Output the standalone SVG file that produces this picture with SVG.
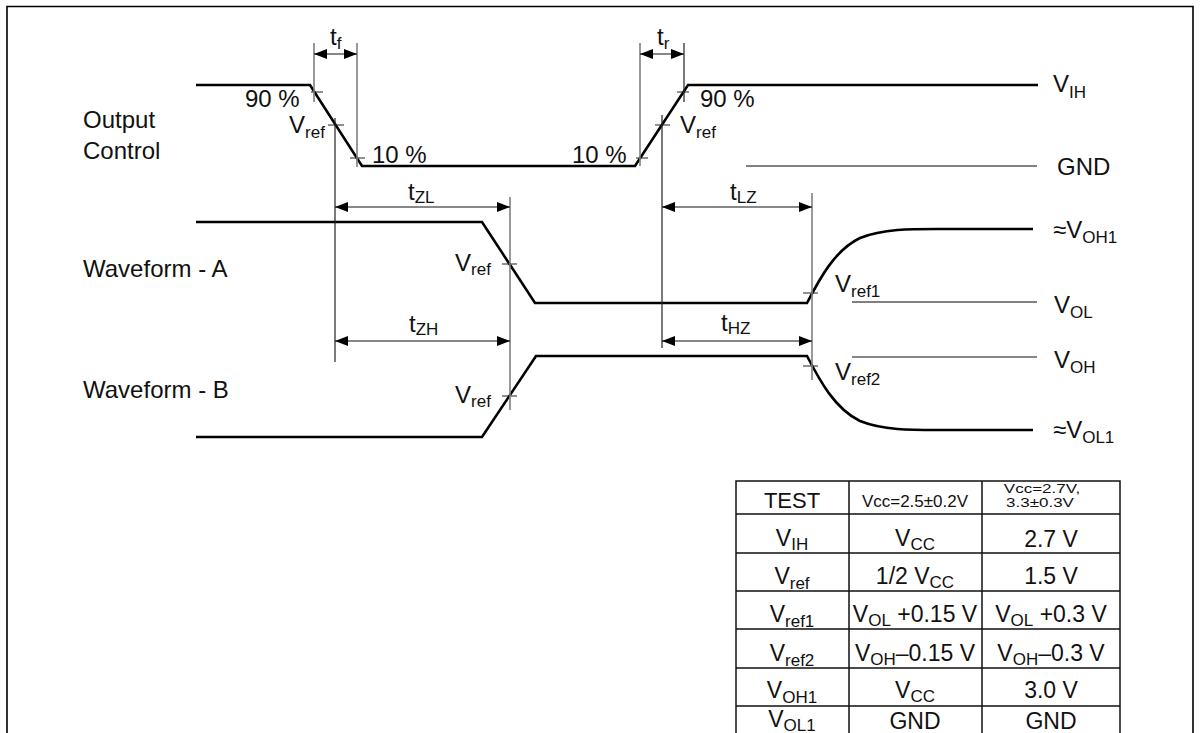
<svg xmlns="http://www.w3.org/2000/svg" width="1200" height="733" viewBox="0 0 1200 733">
<style>
text{font-family:"Liberation Sans",Arial,Helvetica,sans-serif;fill:#111;}
.lbl{font-size:24px;}
.sub{font-size:17px;}
.tb{font-size:23px;text-anchor:middle;}
.tbs{font-size:17px;}
.wave{fill:none;stroke:#000;stroke-width:2.6;stroke-linejoin:miter;}
.ext{fill:none;stroke:#222;stroke-width:1.2;}
.extg{fill:none;stroke:#808080;stroke-width:1.6;}
.tick{fill:none;stroke:#222;stroke-width:1.2;}
.dim{fill:none;stroke:#111;stroke-width:1.2;marker-start:url(#arr);marker-end:url(#arr);}
.lev{fill:none;stroke:#808080;stroke-width:1.8;}
.levk{fill:none;stroke:#111;stroke-width:1.1;}
.grid{fill:none;stroke:#111;stroke-width:1.5;}
</style>
<defs>
<marker id="arr" viewBox="0 0 13 10" refX="13" refY="5" markerWidth="13" markerHeight="10" markerUnits="userSpaceOnUse" orient="auto-start-reverse">
<path d="M0,0 L13,5 L0,10 z" fill="#000"/>
</marker>
</defs>
<rect width="1200" height="733" fill="#fff"/>
<g id="frame">
<path d="M7,733 V6.5 H1193 V733" fill="none" stroke="#000" stroke-width="1.6"/>
</g>

<g id="output-control">
<text class="lbl" x="83" y="128">Output</text>
<text class="lbl" x="83" y="159">Control</text>
<path class="wave" d="M196,85 H310 L362,166 H635 L688,85 H1038"/>
<text class="lbl" x="245" y="107">90 %</text>
<text class="lbl" x="289" y="133">V<tspan class="sub" dy="5">ref</tspan></text>
<text class="lbl" x="372" y="163">10 %</text>
<text class="lbl" x="572" y="163">10 %</text>
<text class="lbl" x="700" y="107">90 %</text>
<text class="lbl" x="680" y="133">V<tspan class="sub" dy="5">ref</tspan></text>
<path class="tick" d="M311,92 H323 M350,158 H365 M328,125 H344 M636,158 H648 M677,92 H689 M655,125 H670"/>
</g>

<g id="waveform-a">
<text class="lbl" x="83" y="277">Waveform - A</text>
<path class="wave" d="M196,222 H482 L535,303 H807 C820,278 835,250 860,238 C885,228 915,229 950,229 H1033"/>
<text class="lbl" x="455" y="271">V<tspan class="sub" dy="4">ref</tspan></text>
<text class="lbl" x="835" y="292">V<tspan class="sub" dy="5">ref1</tspan></text>
<path class="tick" d="M502,264 H517 M803,293 H818"/>
</g>

<g id="waveform-b">
<text class="lbl" x="83" y="398">Waveform - B</text>
<path class="wave" d="M196,437 H482 L536,356 H807 C820,381 835,409 860,421 C885,431 915,430 950,430 H1033"/>
<text class="lbl" x="455" y="403">V<tspan class="sub" dy="4">ref</tspan></text>
<text class="lbl" x="835" y="380">V<tspan class="sub" dy="5">ref2</tspan></text>
<path class="tick" d="M502,396 H517 M803,366 H818"/>
</g>

<g id="reference-levels">
<path class="lev" d="M746,166 H1037"/>
<path class="lev" d="M852,302 H1037"/>
<path class="levk" d="M852,357 H1037"/>
<text class="lbl" x="1053" y="92">V<tspan class="sub" dy="6">IH</tspan></text>
<text class="lbl" x="1057" y="175">GND</text>
<text class="lbl" x="1053" y="238">≈V<tspan class="sub" dy="5">OH1</tspan></text>
<text class="lbl" x="1054" y="313">V<tspan class="sub" dy="5">OL</tspan></text>
<text class="lbl" x="1054" y="368">V<tspan class="sub" dy="5">OH</tspan></text>
<text class="lbl" x="1053" y="438">≈V<tspan class="sub" dy="5">OL1</tspan></text>
</g>

<g id="connectors">
<path class="extg" d="M314,43 V102 M357,43 V167 M640,43 V166 M510,197 V410 M812,193 V380"/>
<path class="ext" d="M335,118 V362 M684,43 V102 M662,115 V348"/>
<line class="dim" x1="314" y1="54" x2="357" y2="54"/>
<line class="dim" x1="640" y1="54" x2="684" y2="54"/>
<line class="dim" x1="335" y1="207" x2="510" y2="207"/>
<line class="dim" x1="335" y1="341" x2="510" y2="341"/>
<line class="dim" x1="662" y1="207" x2="812" y2="207"/>
<line class="dim" x1="662" y1="341" x2="812" y2="341"/>
<text class="lbl" x="330" y="45">t<tspan class="sub" dy="4">f</tspan></text>
<text class="lbl" x="657" y="45">t<tspan class="sub" dy="4">r</tspan></text>
<text class="lbl" x="408" y="200">t<tspan class="sub" dy="3">ZL</tspan></text>
<text class="lbl" x="409" y="332">t<tspan class="sub" dy="3">ZH</tspan></text>
<text class="lbl" x="730" y="200">t<tspan class="sub" dy="3">LZ</tspan></text>
<text class="lbl" x="721" y="331">t<tspan class="sub" dy="3">HZ</tspan></text>
</g>

<g id="table">
<path class="grid" d="M736,733 V481 H1120 V733 M849,481 V733 M982,481 V733 M736,514 H1120 M736,553 H1120 M736,591 H1120 M736,629 H1120 M736,668 H1120 M736,706 H1120"/>
<text class="tb" x="792" y="508" style="font-size:22px">TEST</text>
<text class="tb" x="915" y="507" style="font-size:17px">Vcc=2.5±0.2V</text>
<text class="tb" transform="translate(1042,493) scale(1,0.76)" x="0" y="0" style="font-size:17px">Vcc=2.7V,</text>
<text class="tb" transform="translate(1040,507) scale(1,0.76)" x="0" y="0" style="font-size:17px">3.3±0.3V</text>

<text class="tb" x="792" y="546">V<tspan class="tbs" dy="4">IH</tspan></text>
<text class="tb" x="915" y="546">V<tspan class="tbs" dy="4">CC</tspan></text>
<text class="tb" x="1051" y="547">2.7 V</text>

<text class="tb" x="792" y="584">V<tspan class="tbs" dy="5">ref</tspan></text>
<text class="tb" x="915" y="584">1/2 V<tspan class="tbs" dy="4">CC</tspan></text>
<text class="tb" x="1051" y="584">1.5 V</text>

<text class="tb" x="792" y="622">V<tspan class="tbs" dy="5">ref1</tspan></text>
<text class="tb" x="915" y="622">V<tspan class="tbs" dy="4">OL</tspan><tspan dy="-4"> +0.15 V</tspan></text>
<text class="tb" x="1051" y="622">V<tspan class="tbs" dy="4">OL</tspan><tspan dy="-4"> +0.3 V</tspan></text>

<text class="tb" x="792" y="661">V<tspan class="tbs" dy="5">ref2</tspan></text>
<text class="tb" x="915" y="661">V<tspan class="tbs" dy="4">OH</tspan><tspan dy="-4">–0.15 V</tspan></text>
<text class="tb" x="1051" y="661">V<tspan class="tbs" dy="4">OH</tspan><tspan dy="-4">–0.3 V</tspan></text>

<text class="tb" x="792" y="698">V<tspan class="tbs" dy="5">OH1</tspan></text>
<text class="tb" x="915" y="698">V<tspan class="tbs" dy="4">CC</tspan></text>
<text class="tb" x="1051" y="698">3.0 V</text>

<text class="tb" x="792" y="727">V<tspan class="tbs" dy="4">OL1</tspan></text>
<text class="tb" x="915" y="729">GND</text>
<text class="tb" x="1051" y="729">GND</text>
</g>
</svg>
